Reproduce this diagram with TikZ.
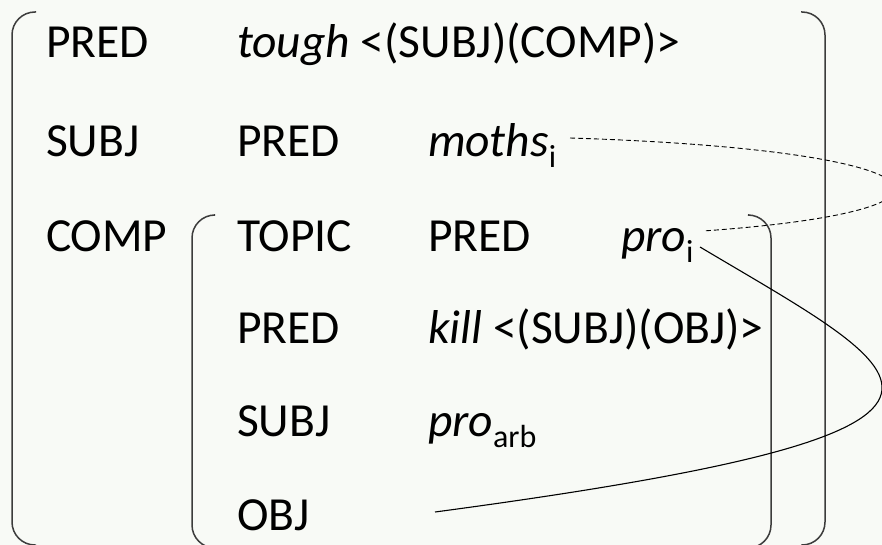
\documentclass[tikz,border=0pt]{standalone}
\usepackage{fontspec}
\setmainfont{Carlito}
\usetikzlibrary{calc}

\definecolor{paper}{RGB}{248,250,246}
\definecolor{bracketgray}{RGB}{60,60,60}

% subscript index, lowered and set smaller
\newcommand{\idx}[1]{\raisebox{-11pt}{\fontsize{32}{32}\selectfont #1}}

\begin{document}
\begin{tikzpicture}[x=1pt,y=-1pt,
  attr/.style={anchor=base west,inner sep=0pt,outer sep=0pt,
    font=\fontsize{47.5}{52}\selectfont},
  bracket/.style={draw=bracketgray,line width=1.5pt,rounded corners=23pt},
  link/.style={draw=black,line width=1.1pt},
  coindex/.style={draw=black,line width=0.9pt,dash pattern=on 5pt off 3pt}]

\useasboundingbox (0,0) rectangle (882,545);
\fill[paper] (0,0) rectangle (882,545);
\clip (0,0) rectangle (882,545);

% outer f-structure
\node[attr] (pred1)  at (46,58)   {PRED};
\node[attr] (tough)  at (237,58)  {\textit{tough} <(SUBJ)(COMP)>};
\node[attr] (subj1)  at (46,157)  {SUBJ};
\node[attr] (pred2)  at (237,157) {PRED};
\node[attr] (moths)  at (428,157) {\textit{moths}\idx{i}};
\node[attr] (comp)   at (46,251)  {COMP};

% embedded COMP f-structure
\node[attr] (topic)  at (237,251) {TOPIC};
\node[attr] (pred3)  at (428,251) {PRED};
\node[attr] (proi)   at (621,251) {\textit{pro}\idx{i}};
\node[attr] (pred4)  at (237,343) {PRED};
\node[attr] (kill)   at (428,343) {\textit{kill} <(SUBJ)(OBJ)>};
\node[attr] (subj2)  at (237,436) {SUBJ};
\node[attr] (proarb) at (428,436) {\textit{pro}\idx{arb}};
\node[attr] (obj)    at (237,530) {OBJ};

% square brackets with rounded corners
\draw[bracket] (36,12) -- (12,12) -- (12,545) -- (36,545);
\draw[bracket] (801,12) -- (825,12) -- (825,545) -- (801,545);
\draw[bracket] (214,215) -- (192,215) -- (192,548) -- (214,548);
\draw[bracket] (749,215) -- (771,215) -- (771,548) -- (749,548);

% coindexation of moths and pro
\draw[coindex] ([xshift=142pt,yshift=19pt]moths.base west)
  .. controls (950,150) and (1000,210) ..
  ([xshift=82pt,yshift=20pt]proi.base west);

% TOPIC linked to the OBJ function
\draw[link] ([xshift=79pt,yshift=4pt]proi.base west)
  .. controls (920,378) and (1048,430) ..
  ([xshift=198pt,yshift=18pt]obj.base west);
\end{tikzpicture}
\end{document}
